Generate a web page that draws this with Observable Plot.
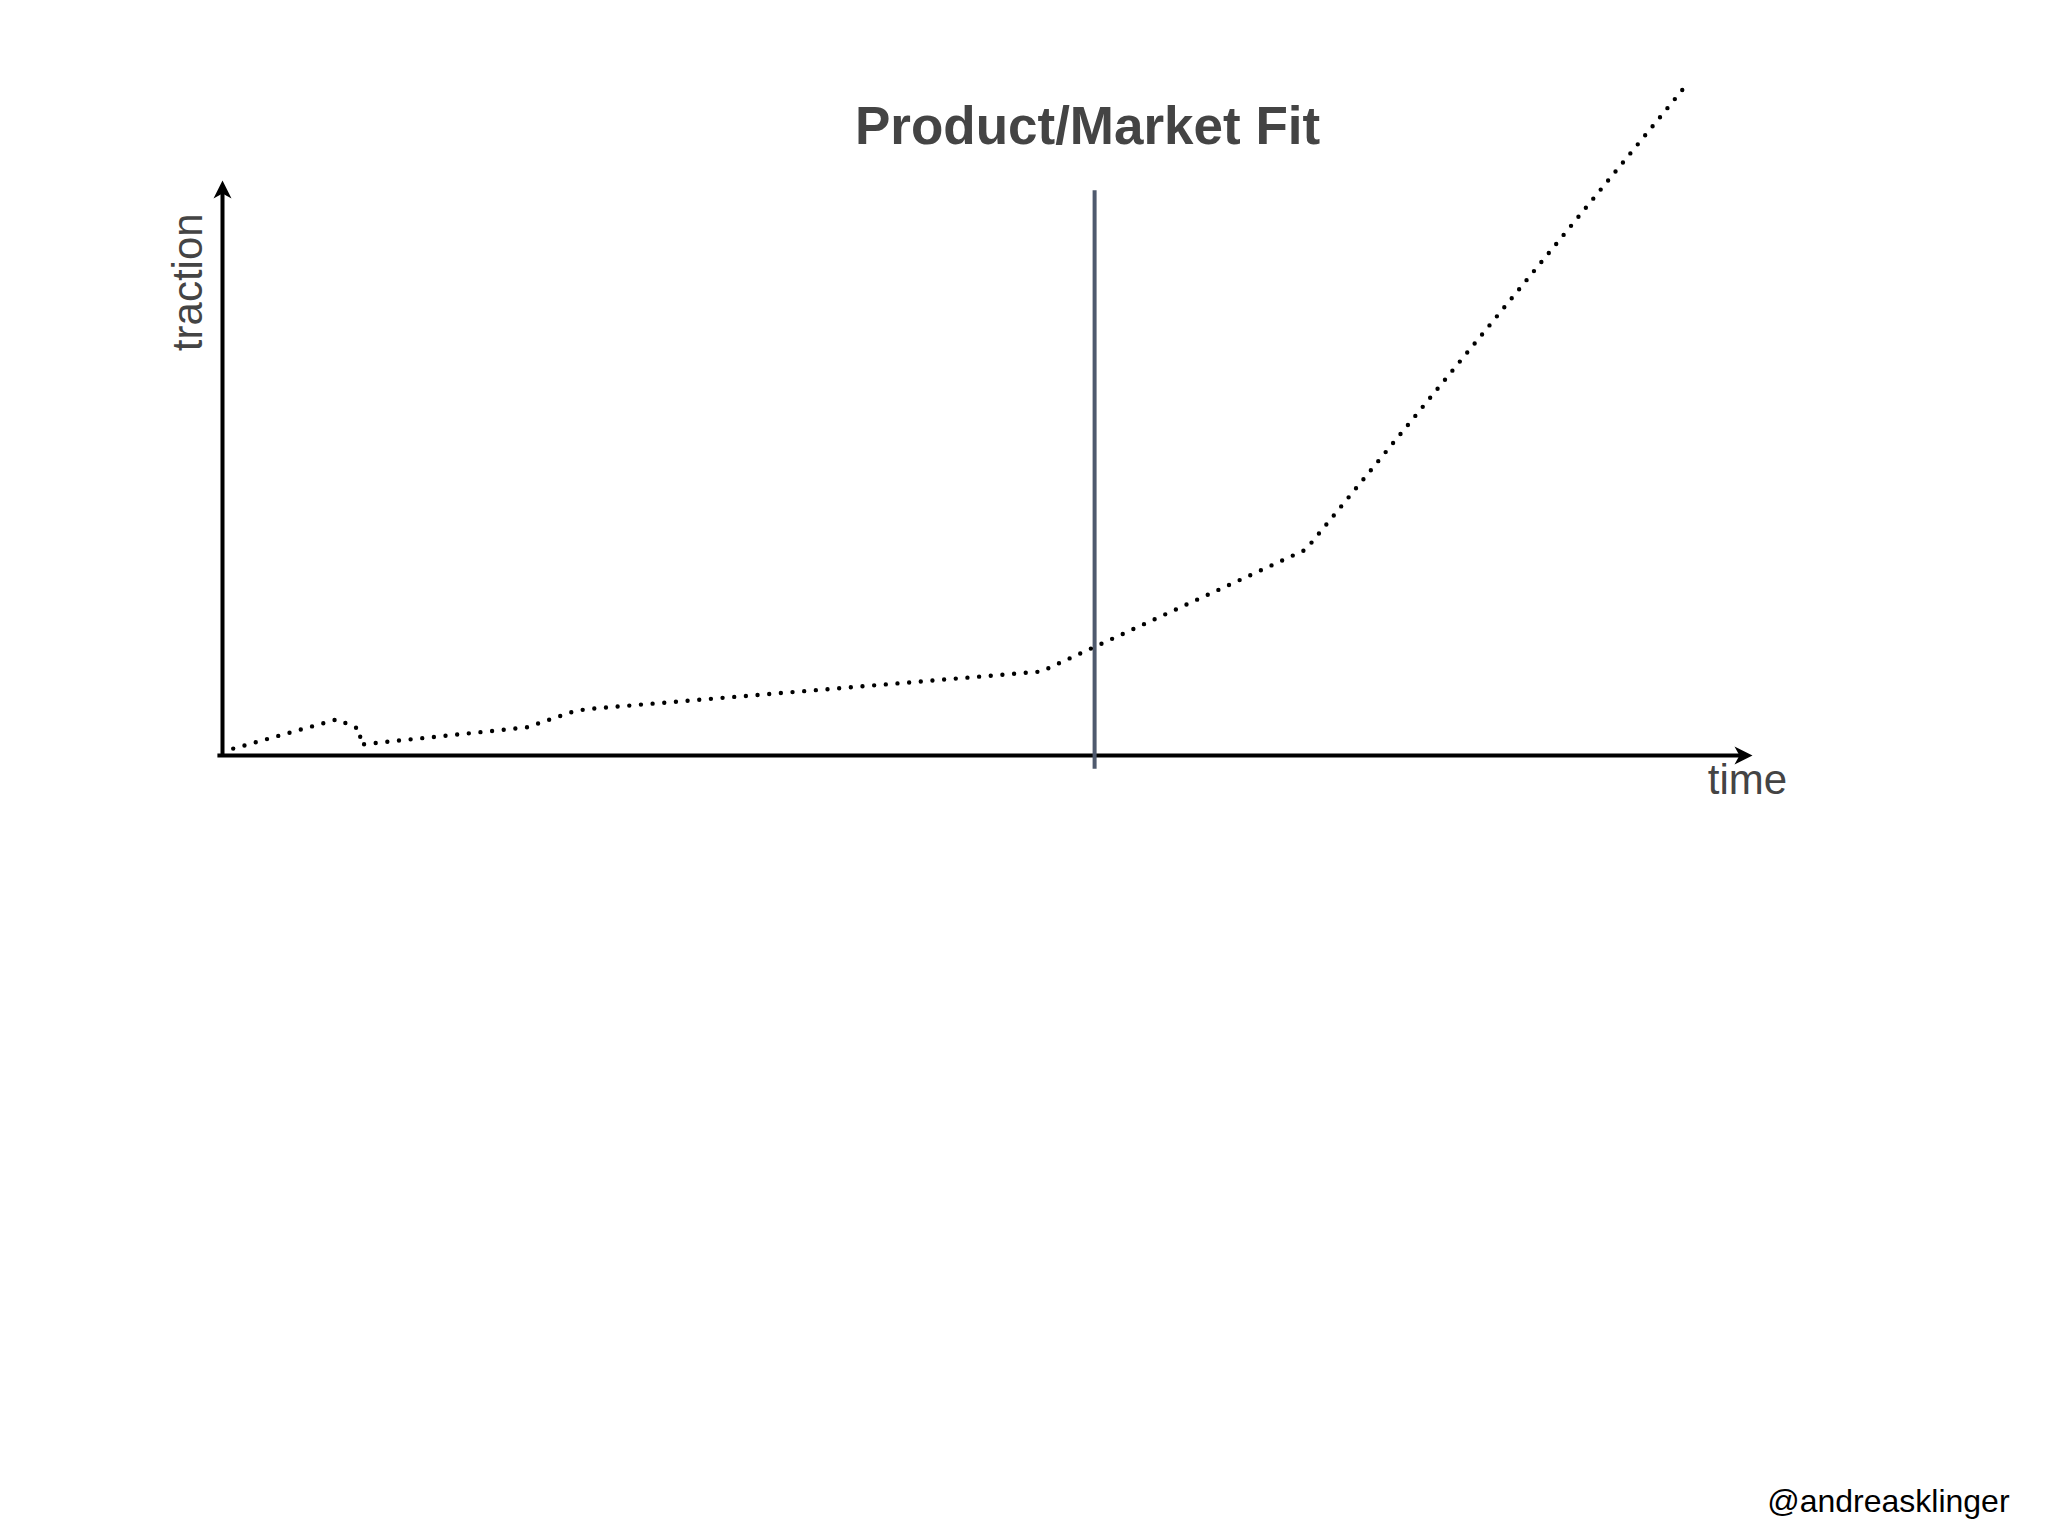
<!DOCTYPE html>
<html>
<head>
<meta charset="utf-8">
<script src="https://cdn.jsdelivr.net/npm/d3@7"></script>
<script src="https://cdn.jsdelivr.net/npm/@observablehq/plot@0.6"></script>
<style>
  html, body { margin: 0; padding: 0; background: #ffffff; overflow: hidden; }
  svg { display: block; }
</style>
</head>
<body>
<div id="chart"></div>
<script>
// ---- data (abstract units: time 0..100, traction 0..100) ----
const time     = [0.7, 7.5, 9.0, 9.0, 19.9, 23.1, 24.4, 53.5, 70.8, 95.8];
const traction = [1.2, 6.3, 4.5, 1.9, 4.9, 7.8, 8.2, 14.6, 35.8, 117.0];
const pmfTime = 57.0;
const pmfRange = [-2.4, 98.2];
const axisMax = 100;
const titleText = "Product/Market Fit";
const xLabel = "time";
const yLabel = "traction";
const creditText = "@andreasklinger";

const series = time.map((t, i) => ({time: t, traction: traction[i]}));

// filled arrowhead whose tip sits at the origin, pointing up
const arrowHead = {
  draw(context, size) {
    const r = Math.sqrt(size / Math.PI);
    const L = r * 2, w = r, n = r * 1.45;
    context.moveTo(0, 0);
    context.lineTo(w, L);
    context.lineTo(0, n);
    context.lineTo(-w, L);
    context.closePath();
  }
};

const chart = Plot.plot({
  width: 2048,
  height: 1536,
  marginLeft: 222,
  marginRight: 296,
  marginTop: 180,
  marginBottom: 781,
  style: {background: "#ffffff"},
  x: {domain: [0, axisMax], axis: null},
  y: {domain: [0, axisMax], axis: null},
  marks: [
    // axes
    Plot.ruleY([0], {x1: -0.3, x2: axisMax - 0.5, stroke: "#000", strokeWidth: 4}),
    Plot.ruleX([0], {y1: -0.3, y2: axisMax - 1, stroke: "#000", strokeWidth: 4}),
    Plot.dot([{x: 0, y: axisMax}], {x: "x", y: "y", symbol: arrowHead, r: 9, fill: "#000", stroke: null, rotate: 0}),
    Plot.dot([{x: axisMax, y: 0}], {x: "x", y: "y", symbol: arrowHead, r: 9, fill: "#000", stroke: null, rotate: 90}),
    // product/market fit marker
    Plot.ruleX([pmfTime], {y1: pmfRange[0], y2: pmfRange[1], stroke: "#4f5a6e", strokeWidth: 4}),
    // traction curve
    Plot.line(series, {x: "time", y: "traction", stroke: "#000", strokeWidth: 4.4,
      strokeDasharray: "0 11.7", strokeLinecap: "round", strokeLinejoin: "round"}),
    // labels
    Plot.text([titleText], {x: 56.54, y: 106.4, text: d => d, fontSize: 53, fontWeight: "bold",
      fontFamily: "Liberation Sans, Arial, sans-serif", fill: "#444", textAnchor: "middle", lineAnchor: "bottom"}),
    Plot.text([xLabel], {x: 99.67, y: -6.78, text: d => d, fontSize: 42,
      fontFamily: "Liberation Sans, Arial, sans-serif", fill: "#444", textAnchor: "middle", lineAnchor: "bottom"}),
    Plot.text([yLabel], {x: -1.31, y: 82.3, text: d => d, fontSize: 42, rotate: -90,
      fontFamily: "Liberation Sans, Arial, sans-serif", fill: "#444", textAnchor: "middle", lineAnchor: "bottom"}),
    Plot.text([creditText], {x: 116.8, y: -131.5, text: d => d, fontSize: 32,
      fontFamily: "Liberation Sans, Arial, sans-serif", fill: "#000", textAnchor: "end", lineAnchor: "bottom"})
  ]
});

document.getElementById("chart").appendChild(chart);
</script>
</body>
</html>
